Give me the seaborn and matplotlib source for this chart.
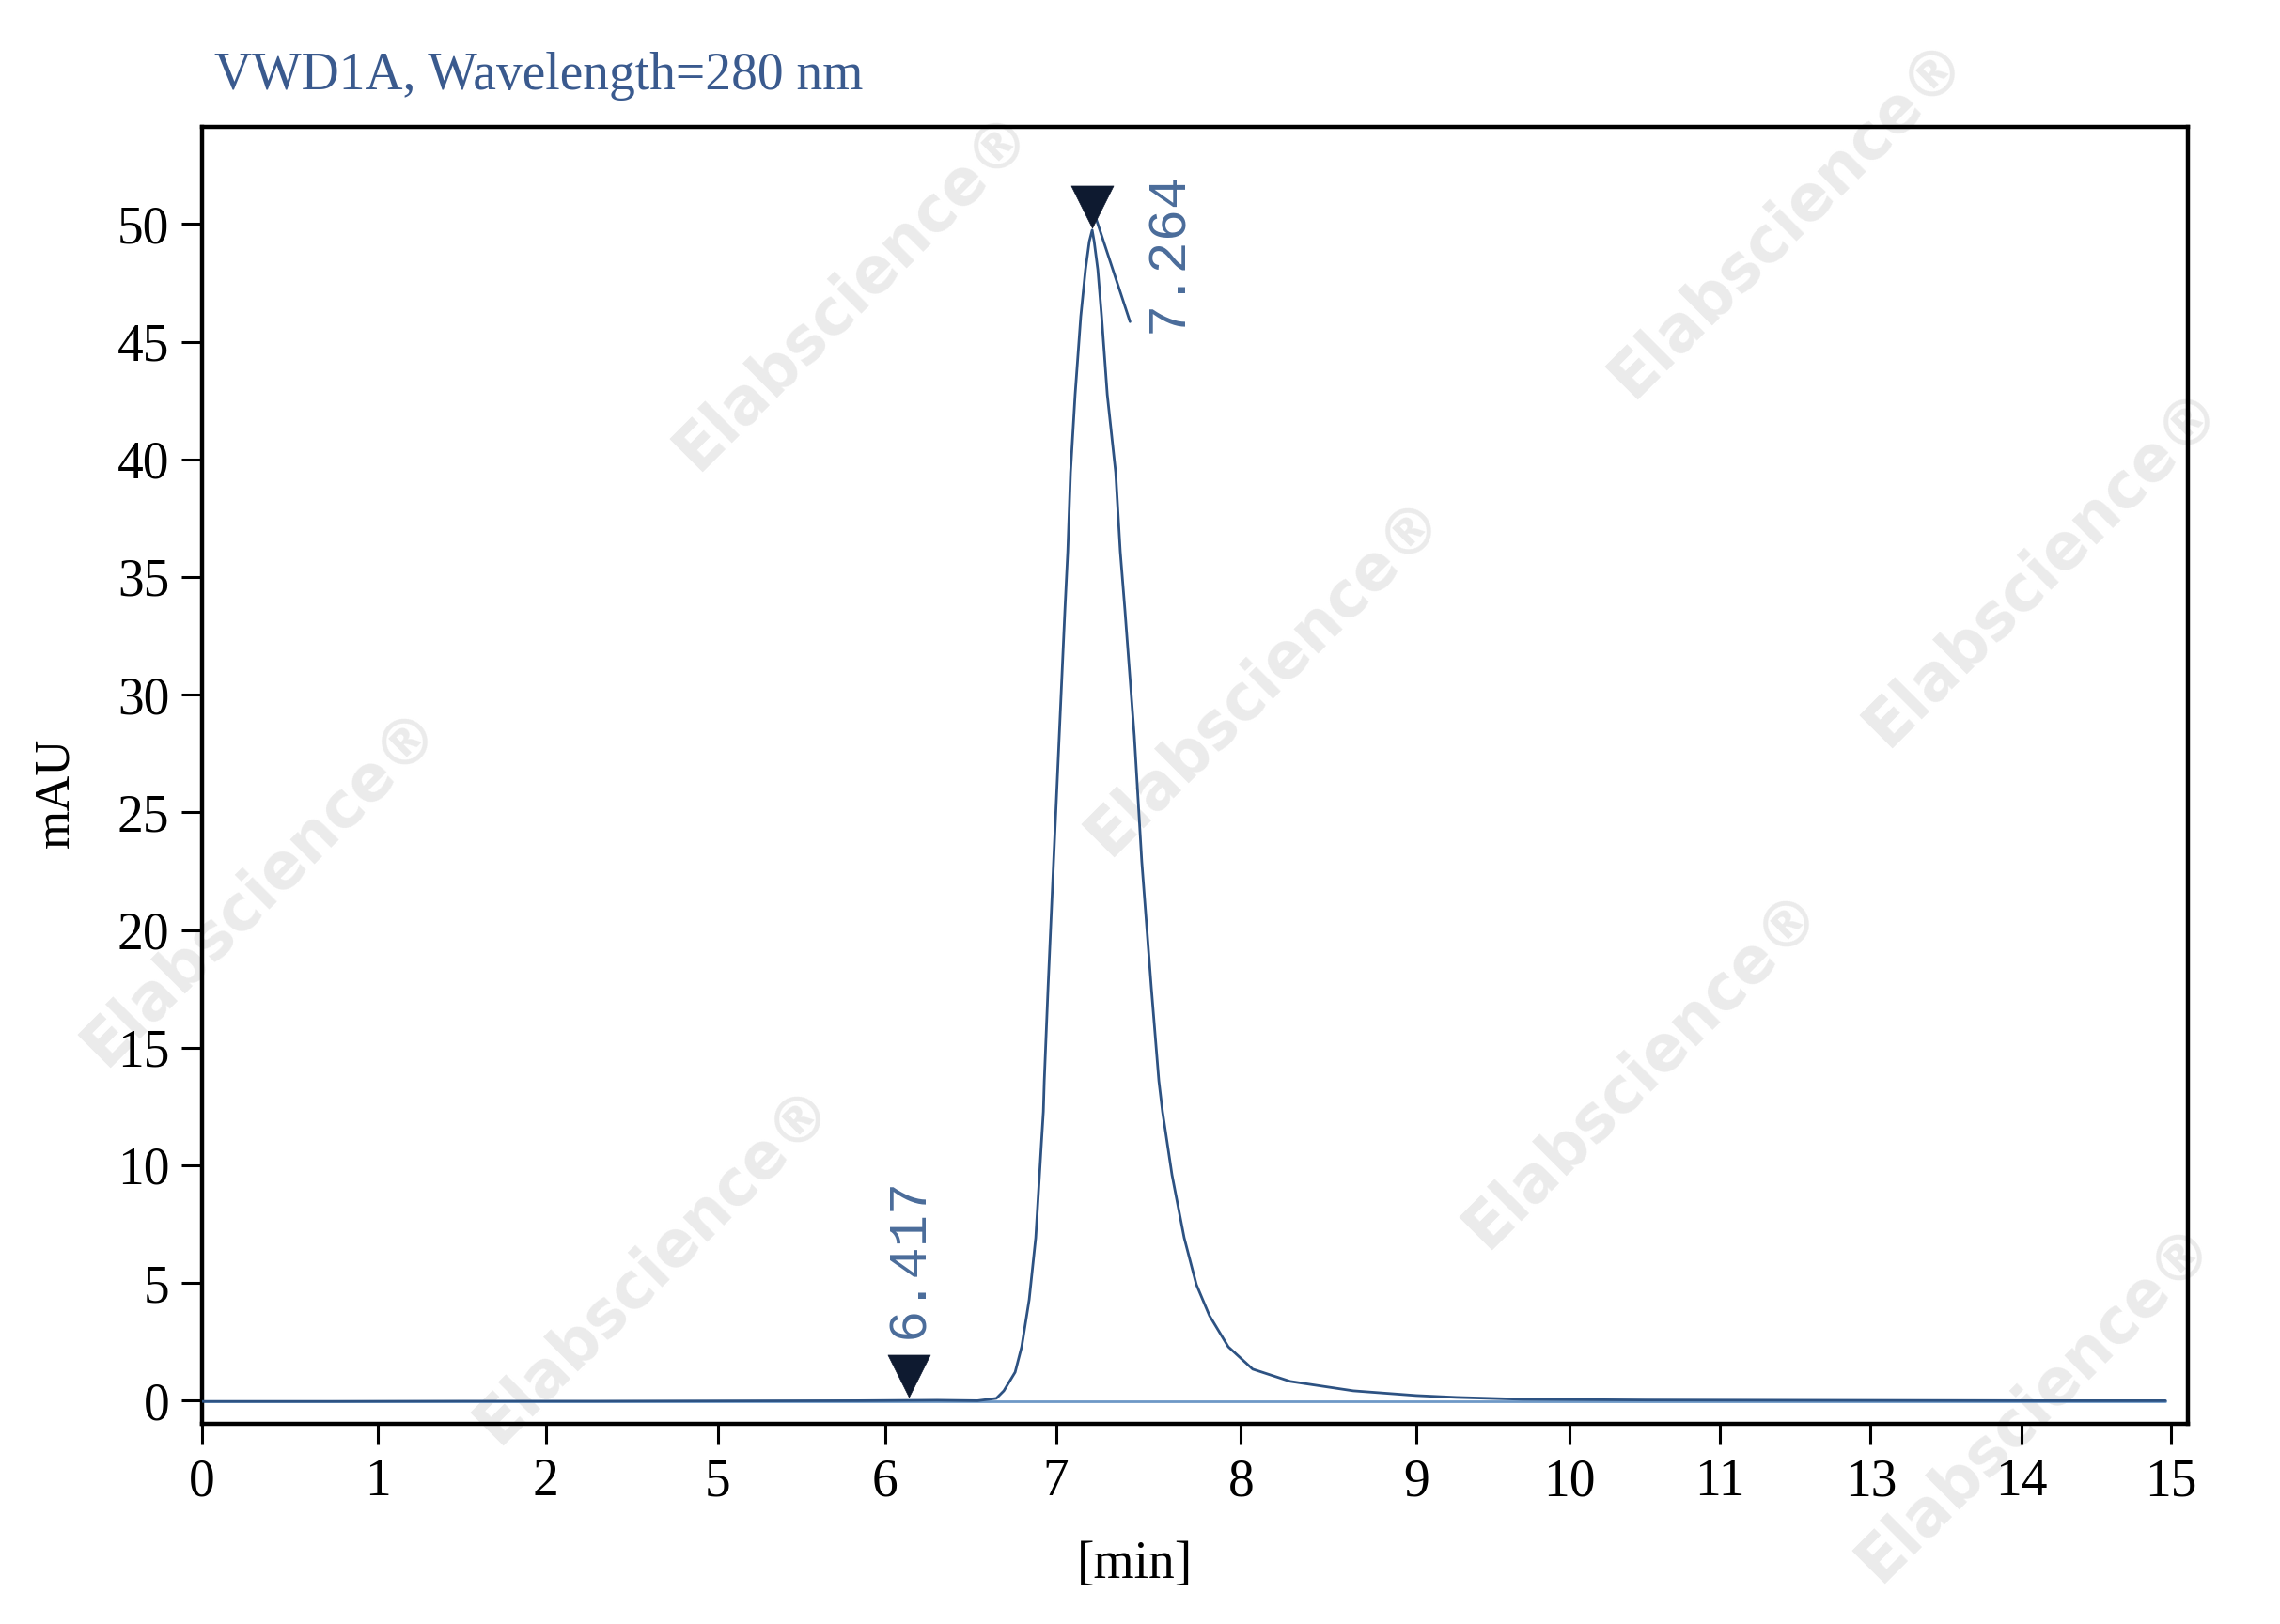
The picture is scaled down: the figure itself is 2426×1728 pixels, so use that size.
import matplotlib
matplotlib.use('Agg')
import matplotlib.pyplot as plt
import seaborn as sns

sns.set_style('ticks')
plt.rcParams['font.family'] = ['Liberation Serif', 'DejaVu Serif']

# 신호 (x: 그림의 축 눈금 단위, y: mAU) - 그림에서 읽은 값
sig_x = [0.0, 1.0, 2.0, 3.0, 4.0, 5.0, 5.6, 5.908, 6.052, 6.109, 6.195, 6.245, 6.302,
         6.352, 6.381, 6.395, 6.410, 6.417, 6.446, 6.488, 6.531, 6.574, 6.596, 6.617,
         6.652, 6.695, 6.731, 6.760, 6.782, 6.797, 6.825, 6.854, 6.897, 6.961, 6.996,
         7.032, 7.103, 7.160, 7.232, 7.290, 7.318, 7.390, 7.483, 7.576, 7.676, 7.819,
         8.005, 8.291, 8.771, 9.250, 9.558, 10.06, 11.0, 12.0, 13.0, 14.0, 14.96]
sig_y = [-0.03, -0.03, -0.02, -0.02, -0.01, 0.0, 0.02, 0.0, 0.10, 0.42, 1.21, 2.29, 4.29,
         6.92, 9.60, 10.92, 12.28, 13.59, 17.59, 22.90, 28.25, 33.56, 36.08, 39.44,
         42.75, 46.07, 48.06, 49.26, 49.74, 49.26, 48.06, 46.07, 42.75, 39.44, 36.08,
         33.56, 28.25, 22.90, 17.59, 13.59, 12.28, 9.60, 6.92, 4.93, 3.61, 2.29,
         1.34, 0.82, 0.42, 0.22, 0.14, 0.06, 0.03, 0.02, 0.01, 0.0, 0.0]

# 적분 기준선
base_x = [0.0, 14.96]
base_y = [-0.02, -0.02]

# 피크 표시
peak_x = [5.386, 6.782]
peak_y = [1.07, 50.73]
peak_labels = ['6.417', '7.264']

# x축 눈금 (위치, 라벨)
xtick_pos = [0, 1.342, 2.619, 3.928, 5.204, 6.507, 7.915, 9.249, 10.416, 11.562, 12.713, 13.860, 15]
xtick_labels = ['0', '1', '2', '5', '6', '7', '8', '9', '10', '11', '13', '14', '15']
ytick_vals = [0, 5, 10, 15, 20, 25, 30, 35, 40, 45, 50]

fig = plt.figure(figsize=(24.26, 17.28), dpi=100)
ax = fig.add_axes([0.0886, 0.1233, 0.9596 - 0.0886, 0.9219 - 0.1233])
ax.patch.set_alpha(0)

# 워터마크
wm = [(587, 200), (1230, 150), (870, 465), (180, 610), (1405, 390),
      (1130, 735), (450, 870), (1400, 965)]
for wx, wy in wm:
    fig.text(wx / 1568, 1 - wy / 1117, 'Elabscience®', rotation=45, ha='center', va='center',
             fontsize=48, fontweight='bold', color='#ebebeb', family='DejaVu Sans', zorder=-5)

sns.lineplot(x=base_x, y=base_y, ax=ax, color='#6e98c6', linewidth=2.0, zorder=2)
sns.lineplot(x=sig_x, y=sig_y, ax=ax, color='#2d5282', linewidth=2.0, zorder=3)
sns.scatterplot(x=peak_x, y=peak_y, ax=ax, marker='v', s=1050, color='#0e1a30',
                edgecolor='#0e1a30', linewidth=0.5, zorder=5)

# 피크 라벨
offsets = [(0, 90), (58, -35)]
for px, py, lab, (dx, dy) in zip(peak_x, peak_y, peak_labels, offsets):
    ax.annotate(lab, xy=(px, py), xytext=(dx, dy), textcoords='offset points',
                rotation=90, ha='center', va='center', fontsize=41,
                family=['Liberation Mono', 'DejaVu Sans Mono'], color='#4a6c9a')
ax.annotate('', xy=(peak_x[1], peak_y[1]), xytext=(29, -88), textcoords='offset points',
            arrowprops=dict(arrowstyle='-', color='#2d5282', lw=2.0, shrinkA=0, shrinkB=0),
            zorder=4)

ax.set_xlim(0, 15.13)
ax.set_ylim(-0.98, 54.13)
ax.set_xticks(xtick_pos)
ax.set_xticklabels(xtick_labels)
ax.set_yticks(ytick_vals)
ax.set_yticklabels([str(v) for v in ytick_vals])
ax.tick_params(axis='both', direction='out', length=16, width=2.2, labelsize=40,
               color='black', labelcolor='black')
ax.tick_params(axis='x', pad=10)
ax.tick_params(axis='y', pad=9)
for sp in ax.spines.values():
    sp.set_visible(True)
    sp.set_linewidth(3.2)
    sp.set_color('black')
ax.set_xlabel('')
ax.set_ylabel('')

fig.text(228 / 2426, 1 - 95 / 1728, 'VWD1A, Wavelength=280 nm', ha='left', va='baseline',
         fontsize=40, color='#3a5a8e')
fig.text(59 / 2426, 1 - 843 / 1728, 'mAU', rotation=90, ha='center', va='center',
         fontsize=38, color='black')
fig.text(1207 / 2426, 1 - 1665 / 1728, '[min]', ha='center', va='center',
         fontsize=40, color='black')

fig.savefig('out.png', dpi=100, facecolor='white')
